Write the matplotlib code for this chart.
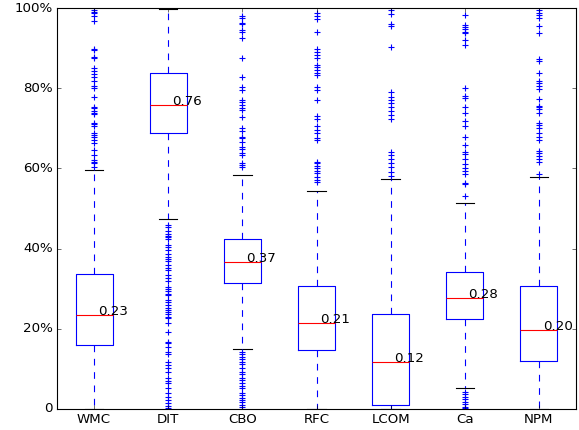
import matplotlib
matplotlib.use("Agg")
import matplotlib.pyplot as plt
from matplotlib.ticker import FixedLocator, FuncFormatter

plt.style.use("classic")

categories = ["WMC", "DIT", "CBO", "RFC", "LCOM", "Ca", "NPM"]
medians = [0.234, 0.759, 0.367, 0.214, 0.116, 0.278, 0.196]
q1s = [0.159, 0.688, 0.313, 0.146, 0.009, 0.225, 0.120]
q3s = [0.336, 0.838, 0.423, 0.307, 0.236, 0.341, 0.306]
whis_low = [0.0, 0.474, 0.149, 0.0, 0.0, 0.053, 0.0]
whis_high = [0.597, 0.998, 0.584, 0.544, 0.574, 0.513, 0.579]

fliers_wmc = [0.995, 0.991, 0.987, 0.981, 0.968, 0.899, 0.895, 0.879, 0.875, 0.850,
              0.844, 0.835, 0.827, 0.819, 0.806, 0.800, 0.779, 0.754, 0.750, 0.744,
              0.739, 0.735, 0.714, 0.710, 0.706, 0.688, 0.683, 0.679, 0.671, 0.663,
              0.646, 0.633, 0.621, 0.617, 0.613, 0.604]
fliers_dit = [0.459, 0.453, 0.444, 0.436, 0.432, 0.429, 0.424, 0.409, 0.405, 0.397,
              0.386, 0.380, 0.374, 0.369, 0.359, 0.351, 0.347, 0.334, 0.326, 0.318,
              0.305, 0.299, 0.294, 0.288, 0.284, 0.272, 0.266, 0.259, 0.251, 0.247,
              0.243, 0.236, 0.230, 0.226, 0.214, 0.193, 0.168, 0.164, 0.155, 0.143,
              0.136, 0.118, 0.110, 0.103, 0.093, 0.077, 0.070, 0.064, 0.052, 0.039,
              0.031, 0.022, 0.014, 0.008, 0.003]
fliers_cbo = [0.980, 0.974, 0.963, 0.960, 0.945, 0.941, 0.924, 0.875, 0.829, 0.802,
              0.796, 0.771, 0.766, 0.758, 0.750, 0.746, 0.727, 0.700, 0.694, 0.679,
              0.675, 0.667, 0.654, 0.648, 0.638, 0.633, 0.613, 0.608, 0.604,
              0.143, 0.136, 0.130, 0.125, 0.118, 0.111, 0.103, 0.093, 0.087, 0.078,
              0.072, 0.064, 0.058, 0.052, 0.039, 0.035, 0.028, 0.022, 0.017, 0.010,
              0.005]
fliers_rfc = [0.987, 0.980, 0.972, 0.941, 0.899, 0.891, 0.883, 0.875, 0.858, 0.852,
              0.845, 0.839, 0.833, 0.802, 0.796, 0.771, 0.731, 0.722, 0.706, 0.696,
              0.688, 0.675, 0.671, 0.617, 0.613, 0.606, 0.600, 0.594, 0.588, 0.579,
              0.571, 0.567]
fliers_lcom = [0.995, 0.985, 0.960, 0.955, 0.902, 0.791, 0.779, 0.771, 0.762, 0.752,
               0.744, 0.733, 0.722, 0.642, 0.633, 0.623, 0.613, 0.603, 0.592, 0.581]
fliers_ca = [0.983, 0.958, 0.952, 0.947, 0.941, 0.937, 0.920, 0.908, 0.800, 0.781,
             0.775, 0.752, 0.737, 0.717, 0.706, 0.679, 0.658, 0.642, 0.636, 0.623,
             0.611, 0.600, 0.594, 0.586, 0.564, 0.561, 0.531,
             0.043, 0.037, 0.031, 0.025, 0.018, 0.012, 0.006, 0.002]
fliers_npm = [0.995, 0.988, 0.983, 0.974, 0.955, 0.937, 0.872, 0.869, 0.837, 0.819,
              0.812, 0.805, 0.797, 0.772, 0.756, 0.752, 0.747, 0.737, 0.714, 0.708,
              0.700, 0.689, 0.679, 0.671, 0.644, 0.638, 0.631, 0.623, 0.617, 0.586]
fliers = [fliers_wmc, fliers_dit, fliers_cbo, fliers_rfc, fliers_lcom, fliers_ca, fliers_npm]

y_ticks = [0.0, 0.2, 0.4, 0.6, 0.8, 1.0]

stats = []
for i, name in enumerate(categories):
    stats.append(dict(label=name, med=medians[i], q1=q1s[i], q3=q3s[i],
                      whislo=whis_low[i], whishi=whis_high[i], fliers=fliers[i]))

fig = plt.figure(figsize=(579 / 80, 430 / 80), dpi=80, facecolor="white")
ax = fig.add_axes([57 / 579, 1 - 409 / 430, 519 / 579, 401 / 430])
ax.set_facecolor("white")

ax.bxp(stats, widths=0.5,
       boxprops=dict(color="b", linewidth=1),
       whiskerprops=dict(color="b", linestyle="--", linewidth=1),
       capprops=dict(color="k", linewidth=1),
       medianprops=dict(color="r", linewidth=1),
       flierprops=dict(marker="+", markeredgecolor="b", markerfacecolor="b",
                       markersize=6, markeredgewidth=1, linestyle="none"))

for i, m in enumerate(medians):
    ax.text(i + 1 + 0.05, m, "%.2f" % m, fontsize=12, color="black")

ax.set_xlim(0.5, len(categories) + 0.5)
ax.set_ylim(0, 1)
ax.yaxis.set_major_locator(FixedLocator(y_ticks))
ax.yaxis.set_major_formatter(FuncFormatter(lambda v, p: "0" if v == 0 else "%d%%" % round(v * 100)))
ax.tick_params(direction="in", labelsize=12)

fig.savefig("out.png", dpi=80, facecolor="white")
